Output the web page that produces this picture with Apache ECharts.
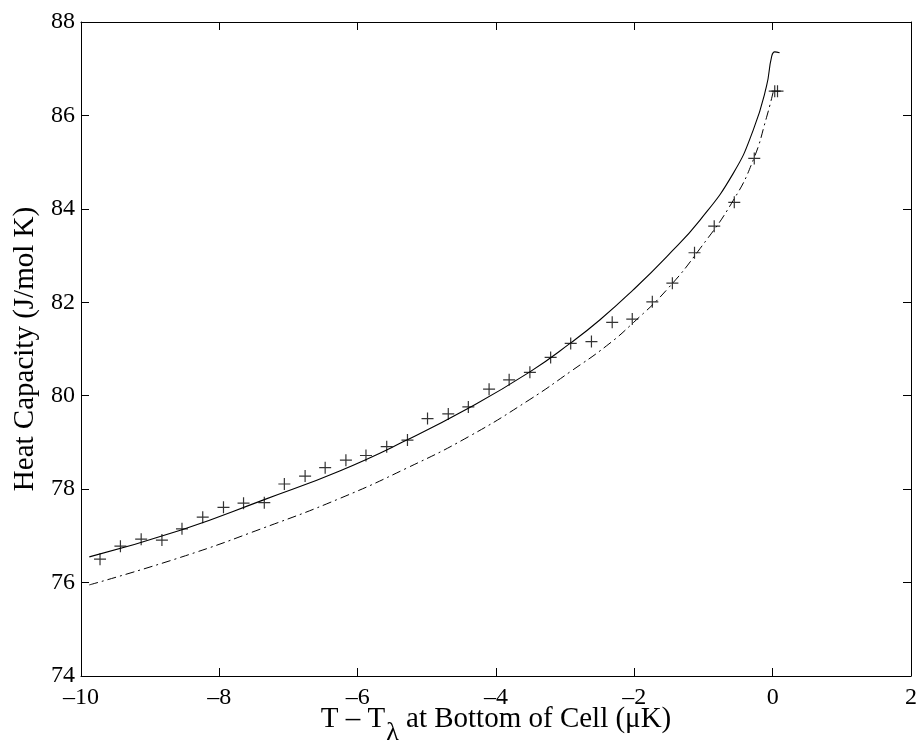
<!DOCTYPE html>
<html>
<head>
<meta charset="utf-8">
<script src="https://cdn.jsdelivr.net/npm/echarts@6/dist/echarts.min.js"></script>
<style>html,body{margin:0;padding:0;background:#fff;}#c{width:921px;height:743px;}</style>
</head>
<body>
<div id="c"></div>
<script>
// Measured data (+ markers)
const crossX = [-9.725,-9.43,-9.13,-8.83,-8.54,-8.24,-7.94,-7.65,-7.35,-7.06,-6.76,-6.47,-6.17,-5.88,-5.58,-5.28,-4.99,-4.69,-4.40,-4.10,-3.81,-3.51,-3.21,-2.92,-2.62,-2.32,-2.03,-1.74,-1.45,-1.13,-0.845,-0.555,-0.266,0.03,0.07];
const crossY = [76.50,76.78,76.93,76.91,77.15,77.40,77.61,77.70,77.71,78.11,78.28,78.46,78.62,78.72,78.91,79.05,79.51,79.61,79.76,80.14,80.34,80.50,80.82,81.12,81.16,81.57,81.64,82.01,82.41,83.06,83.63,84.14,85.08,86.52,86.52];
// Solid curve
const solidX = [-9.88,-8.54,-7.36,-6.26,-5.29,-4.40,-3.51,-2.92,-2.50,-2.02,-1.53,-1.05,-0.57,-0.28,-0.09,-0.015,0.03,0.10];
const solidY = [76.55,77.13,77.77,78.39,79.05,79.73,80.51,81.13,81.62,82.26,82.98,83.76,84.76,85.69,86.62,87.26,87.36,87.34];
// Dash-dot curve
const dashX = [-9.88,-8.54,-7.36,-6.26,-5.29,-4.40,-3.51,-2.92,-2.40,-2.01,-1.53,-1.05,-0.57,-0.28,-0.09,0.02];
const dashY = [75.95,76.55,77.17,77.80,78.45,79.12,79.92,80.52,81.07,81.57,82.27,83.15,84.18,85.05,85.95,86.58];

const xMin = -10, xMax = 2, xStep = 2;
const yMin = 74, yMax = 88, yStep = 2;

const FONT = 'Liberation Serif';
const zip = (a, b) => a.map((v, i) => [v, b[i]]);
const fmt = v => (v < 0 ? '\u2013' + Math.abs(v) : String(v));

const chart = echarts.init(document.getElementById('c'), null, {renderer: 'canvas'});
const tickStyle = {show: true, inside: true, length: 8, lineStyle: {color: '#000', width: 1}};
chart.setOption({
  animation: false,
  backgroundColor: '#fff',
  grid: {left: 81, right: 10, top: 22, bottom: 67, containLabel: false, outerBoundsMode: 'none'},
  xAxis: [{
    type: 'value', min: xMin, max: xMax, interval: xStep,
    axisLine: {show: true, onZero: false, lineStyle: {color: '#000', width: 1}},
    axisTick: tickStyle,
    splitLine: {show: false},
    axisLabel: {formatter: fmt, color: '#000', fontFamily: FONT, fontSize: 24, margin: 10},
    name: '{a|T \u2013 T}{s|\u03bb}{a| at Bottom of Cell (\u03bcK)}',
    nameLocation: 'middle', nameGap: 29, nameMoveOverlap: false,
    nameTextStyle: {
      color: '#000', fontFamily: FONT, fontSize: 29,
      rich: {
        a: {fontFamily: FONT, fontSize: 29, color: '#000', lineHeight: 30, verticalAlign: 'top'},
        s: {fontFamily: FONT, fontSize: 26, color: '#000', lineHeight: 26, verticalAlign: 'top', padding: [15, 0, 0, 1]}
      }
    }
  }, {
    type: 'value', position: 'top', min: xMin, max: xMax, interval: xStep,
    axisLine: {show: true, onZero: false, lineStyle: {color: '#000', width: 1}},
    axisTick: tickStyle, axisLabel: {show: false}, splitLine: {show: false}
  }],
  yAxis: [{
    type: 'value', min: yMin, max: yMax, interval: yStep,
    axisLine: {show: true, onZero: false, lineStyle: {color: '#000', width: 1}},
    axisTick: tickStyle,
    splitLine: {show: false},
    axisLabel: {color: '#000', fontFamily: FONT, fontSize: 24, margin: 6},
    name: 'Heat Capacity (J/mol K)',
    nameLocation: 'middle', nameGap: 41, nameMoveOverlap: false,
    nameTextStyle: {color: '#000', fontFamily: FONT, fontSize: 29}
  }, {
    type: 'value', position: 'right', min: yMin, max: yMax, interval: yStep,
    axisLine: {show: true, onZero: false, lineStyle: {color: '#000', width: 1}},
    axisTick: tickStyle, axisLabel: {show: false}, splitLine: {show: false}
  }],
  series: [{
    type: 'line', data: zip(solidX, solidY), smooth: 0.5, showSymbol: false, symbol: 'none',
    lineStyle: {color: '#000', width: 1.1}, z: 3
  }, {
    type: 'line', data: zip(dashX, dashY), smooth: 0.5, showSymbol: false, symbol: 'none',
    lineStyle: {color: '#000', width: 1, type: [9, 4, 2, 4]}, z: 3
  }, {
    type: 'scatter', data: zip(crossX, crossY),
    symbol: 'path://M4.5,0h1v10h-1z M0,4.5h10v1h-10z', symbolSize: 12,
    itemStyle: {color: '#000'}, z: 4
  }]
});
</script>
</body>
</html>
